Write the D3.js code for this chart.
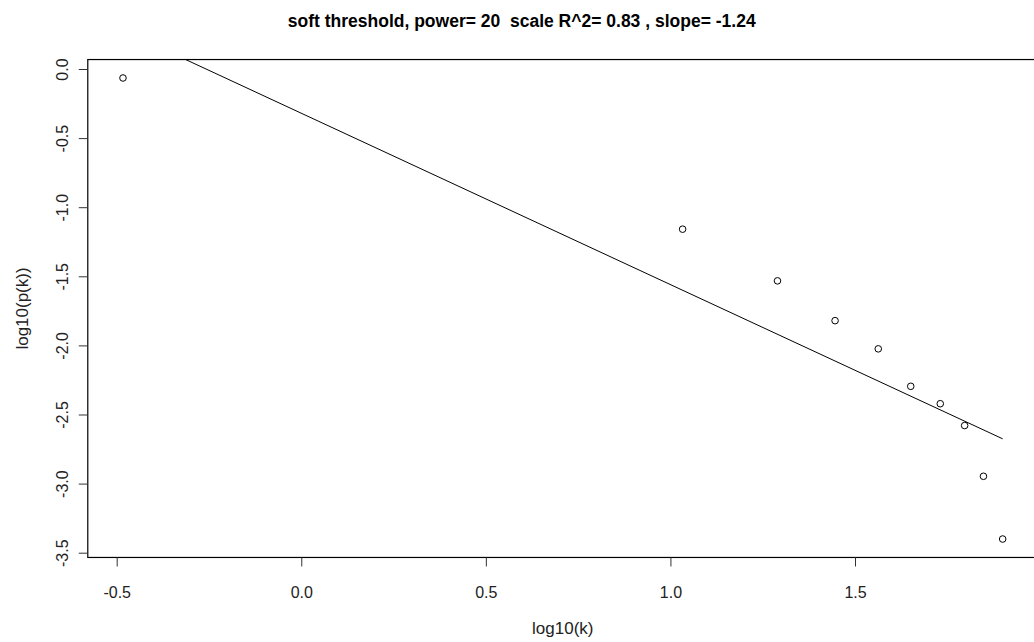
<!DOCTYPE html>
<html><head><meta charset="utf-8">
<script src="https://cdn.jsdelivr.net/npm/d3@7"></script>
<style>body{margin:0;background:#fff}svg{display:block}text{font-family:"Liberation Sans",Arial,sans-serif;white-space:pre}</style>
</head><body>
<svg id="chart" width="1034" height="642"></svg>
<script>
const logK = [-0.483, 1.033, 1.290, 1.446, 1.563, 1.651, 1.731, 1.797, 1.848, 1.900];
const logPK = [-0.065, -1.159, -1.533, -1.821, -2.025, -2.296, -2.422, -2.580, -2.947, -3.401];
const xTicks = [-0.5, 0.0, 0.5, 1.0, 1.5];
const yTicks = [0.0, -0.5, -1.0, -1.5, -2.0, -2.5, -3.0, -3.5];
const fitIntercept = -0.32;
const fitSlope = -1.24;
const titleText = "soft threshold, power= 20  scale R^2= 0.83 , slope= -1.24";

const svg = d3.select("#chart");
const x = d3.scaleLinear().domain([-0.5, 1.5]).range([116.7, 855]);
const y = d3.scaleLinear().domain([0, -3.5]).range([69, 552.7]);
const fmt = d => d3.format(".1f")(d).replace("\u2212", "-");

// R-style 4% extended ranges
const xe = d3.extent(logK), ye = d3.extent(logPK);
const xd = [xe[0] - 0.04*(xe[1]-xe[0]), xe[1] + 0.04*(xe[1]-xe[0])];
const yd = [ye[0] - 0.04*(ye[1]-ye[0]), ye[1] + 0.04*(ye[1]-ye[0])];
const L = x(xd[0]), R = x(xd[1]), T = y(yd[1]), B = y(yd[0]);

svg.append("defs").append("clipPath").attr("id","clip")
  .append("rect").attr("x",L).attr("y",T).attr("width",R-L).attr("height",B-T);

// fitted line
const lineX = d3.extent(logK);
svg.append("g").attr("clip-path","url(#clip)").append("path")
  .attr("d", d3.line().x(d=>x(d)).y(d=>y(fitIntercept + fitSlope*d))(lineX))
  .attr("stroke","#000").attr("stroke-width",1).attr("fill","none");

// points
svg.append("g").selectAll("circle").data(logK).join("circle")
  .attr("cx",d=>x(d)).attr("cy",(d,i)=>y(logPK[i])).attr("r",3.3)
  .attr("fill","none").attr("stroke","#000").attr("stroke-width",1);

// box
svg.append("rect").attr("x",L).attr("y",T).attr("width",R-L).attr("height",B-T)
  .attr("fill","none").attr("stroke","#000").attr("stroke-width",1.2);

// x axis
const xa = svg.append("g").attr("transform",`translate(0,${B})`)
  .call(d3.axisBottom(x).tickValues(xTicks).tickSize(9).tickPadding(20).tickFormat(fmt));
xa.select(".domain").remove();
xa.selectAll("line").attr("stroke","#333");
xa.selectAll("text").attr("font-size",16).attr("fill","#222").attr("font-family","Liberation Sans, Arial, sans-serif");

// y axis
const ya = svg.append("g").attr("transform",`translate(${L},0)`)
  .call(d3.axisLeft(y).tickValues(yTicks).tickSize(9).tickFormat(fmt));
ya.select(".domain").remove();
ya.selectAll("line").attr("stroke","#333");
ya.selectAll("text").attr("font-size",16).attr("fill","#222").attr("font-family","Liberation Sans, Arial, sans-serif")
  .attr("x",null).attr("dy",null)
  .attr("text-anchor","middle")
  .attr("transform","translate(-20,0) rotate(-90)");

// title
svg.append("text").attr("x",521.7).attr("y",26.5).attr("text-anchor","middle")
  .attr("font-size",17.5).attr("font-weight","bold").attr("fill","#000")
  .attr("xml:space","preserve").text(titleText);

// axis labels
svg.append("text").attr("x",(L+R)/2).attr("y",634).attr("text-anchor","middle")
  .attr("font-size",17).attr("fill","#222").text("log10(k)");
svg.append("text").attr("transform",`translate(28,${(T+B)/2}) rotate(-90)`).attr("text-anchor","middle")
  .attr("font-size",17).attr("fill","#222").text("log10(p(k))");
</script>
</body></html>
